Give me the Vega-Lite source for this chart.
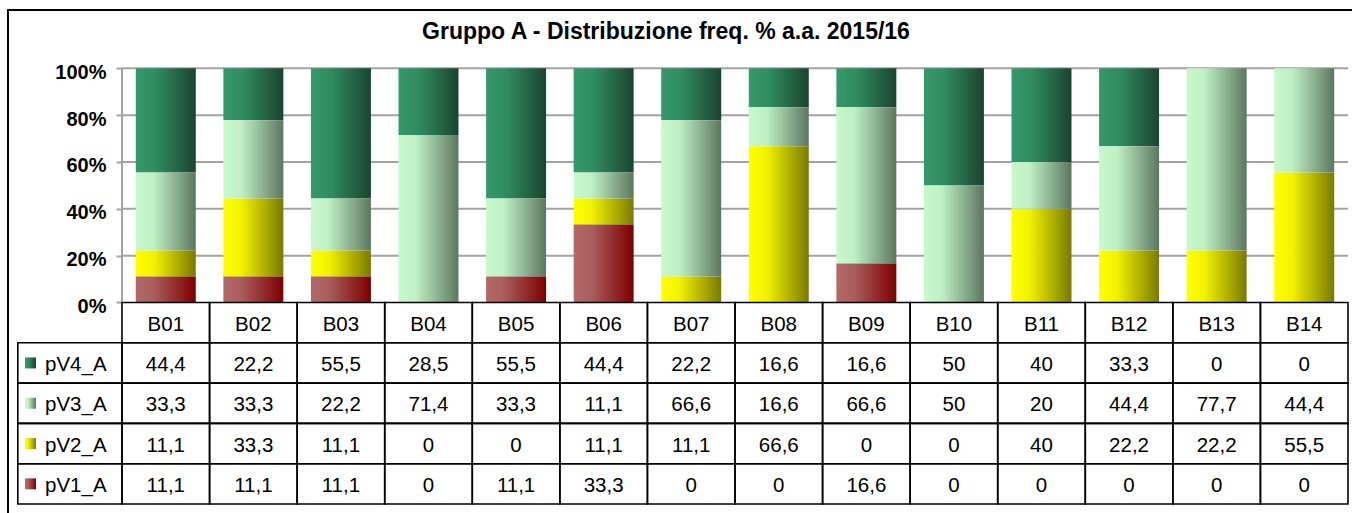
{
  "$schema": "https://vega.github.io/schema/vega-lite/v6.json",
  "width": 1348,
  "height": 508,
  "autosize": {"type": "none"},
  "padding": {"left": 8, "top": 10, "right": 0, "bottom": 0},
  "background": "white",
  "title": {"text": "Gruppo A - Distribuzione freq. % a.a. 2015/16", "font": "Liberation Sans", "fontSize": 23, "fontWeight": "bold", "color": "black", "anchor": "middle", "baseline": "alphabetic", "offset": -52, "dx": -16},
  "config": {"view": {"stroke": "black", "strokeWidth": 2}, "font": "Liberation Sans"},
  "datasets": {
    "d": [
      {"cat": "B01", "s": "pV4_A", "v": 44.4}, {"cat": "B02", "s": "pV4_A", "v": 22.2}, {"cat": "B03", "s": "pV4_A", "v": 55.5}, {"cat": "B04", "s": "pV4_A", "v": 28.5}, {"cat": "B05", "s": "pV4_A", "v": 55.5}, {"cat": "B06", "s": "pV4_A", "v": 44.4}, {"cat": "B07", "s": "pV4_A", "v": 22.2}, {"cat": "B08", "s": "pV4_A", "v": 16.6}, {"cat": "B09", "s": "pV4_A", "v": 16.6}, {"cat": "B10", "s": "pV4_A", "v": 50}, {"cat": "B11", "s": "pV4_A", "v": 40}, {"cat": "B12", "s": "pV4_A", "v": 33.3}, {"cat": "B13", "s": "pV4_A", "v": 0}, {"cat": "B14", "s": "pV4_A", "v": 0},
      {"cat": "B01", "s": "pV3_A", "v": 33.3}, {"cat": "B02", "s": "pV3_A", "v": 33.3}, {"cat": "B03", "s": "pV3_A", "v": 22.2}, {"cat": "B04", "s": "pV3_A", "v": 71.4}, {"cat": "B05", "s": "pV3_A", "v": 33.3}, {"cat": "B06", "s": "pV3_A", "v": 11.1}, {"cat": "B07", "s": "pV3_A", "v": 66.6}, {"cat": "B08", "s": "pV3_A", "v": 16.6}, {"cat": "B09", "s": "pV3_A", "v": 66.6}, {"cat": "B10", "s": "pV3_A", "v": 50}, {"cat": "B11", "s": "pV3_A", "v": 20}, {"cat": "B12", "s": "pV3_A", "v": 44.4}, {"cat": "B13", "s": "pV3_A", "v": 77.7}, {"cat": "B14", "s": "pV3_A", "v": 44.4},
      {"cat": "B01", "s": "pV2_A", "v": 11.1}, {"cat": "B02", "s": "pV2_A", "v": 33.3}, {"cat": "B03", "s": "pV2_A", "v": 11.1}, {"cat": "B04", "s": "pV2_A", "v": 0}, {"cat": "B05", "s": "pV2_A", "v": 0}, {"cat": "B06", "s": "pV2_A", "v": 11.1}, {"cat": "B07", "s": "pV2_A", "v": 11.1}, {"cat": "B08", "s": "pV2_A", "v": 66.6}, {"cat": "B09", "s": "pV2_A", "v": 0}, {"cat": "B10", "s": "pV2_A", "v": 0}, {"cat": "B11", "s": "pV2_A", "v": 40}, {"cat": "B12", "s": "pV2_A", "v": 22.2}, {"cat": "B13", "s": "pV2_A", "v": 22.2}, {"cat": "B14", "s": "pV2_A", "v": 55.5},
      {"cat": "B01", "s": "pV1_A", "v": 11.1}, {"cat": "B02", "s": "pV1_A", "v": 11.1}, {"cat": "B03", "s": "pV1_A", "v": 11.1}, {"cat": "B04", "s": "pV1_A", "v": 0}, {"cat": "B05", "s": "pV1_A", "v": 11.1}, {"cat": "B06", "s": "pV1_A", "v": 33.3}, {"cat": "B07", "s": "pV1_A", "v": 0}, {"cat": "B08", "s": "pV1_A", "v": 0}, {"cat": "B09", "s": "pV1_A", "v": 16.6}, {"cat": "B10", "s": "pV1_A", "v": 0}, {"cat": "B11", "s": "pV1_A", "v": 0}, {"cat": "B12", "s": "pV1_A", "v": 0}, {"cat": "B13", "s": "pV1_A", "v": 0}, {"cat": "B14", "s": "pV1_A", "v": 0}
    ]
  },
  "data": {"name": "d"},
  "resolve": {"scale": {"y": "independent"}, "axis": {"y": "independent"}},
  "layer": [
    {
      "layer": [
        {
          "data": {"values": [{"t": 0.2}, {"t": 0.4}, {"t": 0.6}, {"t": 0.8}, {"t": 1}]},
          "mark": {"type": "rule", "color": "#A3A3A3", "strokeWidth": 2},
          "encoding": {
            "y": {"field": "t", "type": "quantitative", "scale": {"domain": [-0.9202, 1.2489], "nice": false, "zero": false}, "axis": {"values": [0, 0.2, 0.4, 0.6, 0.8, 1], "format": ".0%", "title": null, "grid": false, "domain": false, "offset": -114, "ticks": true, "tickSize": 6, "tickColor": "#A3A3A3", "tickWidth": 2, "labelPadding": 10, "labelOffset": 4, "labelFont": "Liberation Sans", "labelFontSize": 20, "labelFontWeight": "bold", "labelColor": "black", "labelBaseline": "middle"}},
            "x": {"datum": "B01", "type": "nominal", "bandPosition": 0, "scale": {"type": "band", "domain": ["B01","B02","B03","B04","B05","B06","B07","B08","B09","B10","B11","B12","B13","B14"], "paddingInner": 0, "paddingOuter": 0.6966, "align": 0.9344, "round": false}, "axis": null},
            "x2": {"datum": "B14", "bandPosition": 1}
          }
        },
        {
          "data": {"values": [{}]},
          "mark": {"type": "rule", "color": "#A3A3A3", "strokeWidth": 2},
          "encoding": {
            "x": {"datum": "B01", "type": "nominal", "bandPosition": 0, "scale": {"type": "band", "domain": ["B01","B02","B03","B04","B05","B06","B07","B08","B09","B10","B11","B12","B13","B14"], "paddingInner": 0, "paddingOuter": 0.6966, "align": 0.9344, "round": false}, "axis": null},
            "y": {"datum": 0, "type": "quantitative", "scale": {"domain": [-0.9202, 1.2489], "nice": false, "zero": false}, "axis": {"values": [0, 0.2, 0.4, 0.6, 0.8, 1], "format": ".0%", "title": null, "grid": false, "domain": false, "offset": -114, "ticks": true, "tickSize": 6, "tickColor": "#A3A3A3", "tickWidth": 2, "labelPadding": 10, "labelOffset": 4, "labelFont": "Liberation Sans", "labelFontSize": 20, "labelFontWeight": "bold", "labelColor": "black", "labelBaseline": "middle"}},
            "y2": {"datum": 1}
          }
        },
        {
          "mark": {"type": "bar", "width": {"band": 0.685}, "stroke": null},
          "encoding": {
            "x": {"field": "cat", "type": "nominal", "scale": {"type": "band", "domain": ["B01","B02","B03","B04","B05","B06","B07","B08","B09","B10","B11","B12","B13","B14"], "paddingInner": 0, "paddingOuter": 0.6966, "align": 0.9344, "round": false}, "axis": null},
            "y": {"field": "v", "type": "quantitative", "stack": "normalize", "scale": {"domain": [-0.9202, 1.2489], "nice": false, "zero": false}, "axis": {"values": [0, 0.2, 0.4, 0.6, 0.8, 1], "format": ".0%", "title": null, "grid": false, "domain": false, "offset": -114, "ticks": true, "tickSize": 6, "tickColor": "#A3A3A3", "tickWidth": 2, "labelPadding": 10, "labelOffset": 4, "labelFont": "Liberation Sans", "labelFontSize": 20, "labelFontWeight": "bold", "labelColor": "black", "labelBaseline": "middle"}},
            "detail": {"field": "s", "type": "nominal"},
            "order": {"field": "s", "type": "nominal", "sort": "ascending"},
            "fill": {
              "condition": [
                {"test": "datum.s === 'pV4_A'", "value": {"gradient": "linear", "x1": 0, "y1": 0, "x2": 1, "y2": 0, "stops": [{"offset": 0, "color": "#36996B"}, {"offset": 0.35, "color": "#2F8B5E"}, {"offset": 1, "color": "#1A4430"}]}},
                {"test": "datum.s === 'pV3_A'", "value": {"gradient": "linear", "x1": 0, "y1": 0, "x2": 1, "y2": 0, "stops": [{"offset": 0, "color": "#C8F9CC"}, {"offset": 0.3, "color": "#BFEFC3"}, {"offset": 1, "color": "#5C7760"}]}},
                {"test": "datum.s === 'pV2_A'", "value": {"gradient": "linear", "x1": 0, "y1": 0, "x2": 1, "y2": 0, "stops": [{"offset": 0, "color": "#FFFF00"}, {"offset": 0.3, "color": "#F2F200"}, {"offset": 1, "color": "#7A7A00"}]}}
              ],
              "value": {"gradient": "linear", "x1": 0, "y1": 0, "x2": 1, "y2": 0, "stops": [{"offset": 0, "color": "#B36A6A"}, {"offset": 0.3, "color": "#AA5D5D"}, {"offset": 1, "color": "#7D0000"}]}
            }
          }
        }
      ]
    },
    {
      "layer": [
        {
          "mark": {"type": "rect", "fill": "transparent", "stroke": "black", "strokeWidth": 1.6},
          "encoding": {
            "x": {"field": "cat", "type": "nominal", "scale": {"type": "band", "domain": ["B01","B02","B03","B04","B05","B06","B07","B08","B09","B10","B11","B12","B13","B14"], "paddingInner": 0, "paddingOuter": 0.6966, "align": 0.9344, "round": false}, "axis": null},
            "y": {"field": "s", "type": "nominal", "scale": {"type": "band", "domain": ["hdr","pV4_A","pV3_A","pV2_A","pV1_A"], "range": [292.5, 494], "paddingInner": 0, "paddingOuter": 0, "round": false}, "axis": null}
          }
        },
        {
          "transform": [{"filter": "datum.s === 'pV4_A'"}],
          "mark": {"type": "rect", "fill": "transparent", "stroke": "black", "strokeWidth": 1.6},
          "encoding": {
            "x": {"field": "cat", "type": "nominal", "axis": null},
            "y": {"datum": "hdr", "type": "nominal", "axis": null}
          }
        },
        {
          "transform": [{"filter": "datum.cat === 'B01'"}],
          "mark": {"type": "rect", "fill": "transparent", "stroke": "black", "strokeWidth": 1.6},
          "encoding": {
            "x": {"datum": "B01", "type": "nominal", "bandPosition": -1.19, "axis": null},
            "x2": {"datum": "B01", "bandPosition": 0},
            "y": {"field": "s", "type": "nominal", "axis": null}
          }
        },
        {
          "transform": [{"calculate": "replace(toString(datum.v), '.', ',')", "as": "lbl"}],
          "mark": {"type": "text", "font": "Liberation Sans", "fontSize": 20.5, "color": "black", "baseline": "middle", "dy": 2},
          "encoding": {
            "x": {"field": "cat", "type": "nominal", "axis": null},
            "y": {"field": "s", "type": "nominal", "axis": null},
            "text": {"field": "lbl", "type": "nominal"}
          }
        },
        {
          "transform": [{"filter": "datum.s === 'pV4_A'"}],
          "mark": {"type": "text", "font": "Liberation Sans", "fontSize": 20.5, "color": "black", "baseline": "middle", "dy": 2},
          "encoding": {
            "x": {"field": "cat", "type": "nominal", "axis": null},
            "y": {"datum": "hdr", "type": "nominal", "axis": null},
            "text": {"field": "cat", "type": "nominal"}
          }
        },
        {
          "transform": [{"filter": "datum.cat === 'B01'"}],
          "mark": {"type": "text", "font": "Liberation Sans", "fontSize": 20.5, "color": "black", "baseline": "middle", "align": "left", "dy": 2},
          "encoding": {
            "x": {"datum": "B01", "type": "nominal", "bandPosition": -0.879, "axis": null},
            "y": {"field": "s", "type": "nominal", "axis": null},
            "text": {"field": "s", "type": "nominal"}
          }
        },
        {
          "transform": [{"filter": "datum.cat === 'B01'"}],
          "mark": {"type": "square", "size": 121, "opacity": 1, "filled": true},
          "encoding": {
            "x": {"datum": "B01", "type": "nominal", "bandPosition": -1.045, "axis": null},
            "y": {"field": "s", "type": "nominal", "axis": null},
            "fill": {
              "condition": [
                {"test": "datum.s === 'pV4_A'", "value": {"gradient": "linear", "x1": 0, "y1": 0, "x2": 1, "y2": 0, "stops": [{"offset": 0, "color": "#36996B"}, {"offset": 0.35, "color": "#2F8B5E"}, {"offset": 1, "color": "#1A4430"}]}},
                {"test": "datum.s === 'pV3_A'", "value": {"gradient": "linear", "x1": 0, "y1": 0, "x2": 1, "y2": 0, "stops": [{"offset": 0, "color": "#C8F9CC"}, {"offset": 0.3, "color": "#BFEFC3"}, {"offset": 1, "color": "#5C7760"}]}},
                {"test": "datum.s === 'pV2_A'", "value": {"gradient": "linear", "x1": 0, "y1": 0, "x2": 1, "y2": 0, "stops": [{"offset": 0, "color": "#FFFF00"}, {"offset": 0.3, "color": "#F2F200"}, {"offset": 1, "color": "#7A7A00"}]}}
              ],
              "value": {"gradient": "linear", "x1": 0, "y1": 0, "x2": 1, "y2": 0, "stops": [{"offset": 0, "color": "#B36A6A"}, {"offset": 0.3, "color": "#AA5D5D"}, {"offset": 1, "color": "#7D0000"}]}
            }
          }
        }
      ]
    }
  ]
}
